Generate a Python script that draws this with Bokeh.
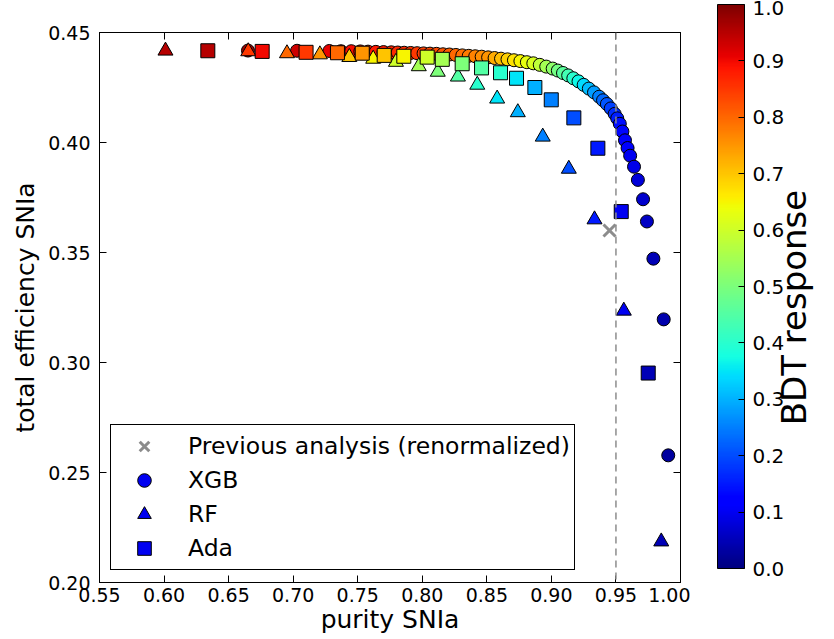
import numpy as np
from bokeh.plotting import figure
from bokeh.layouts import row
from bokeh.models import (LinearColorMapper, ColorBar, Span, Legend, LegendItem,
                          LinearAxis, FixedTicker, PrintfTickFormatter,
                          ColumnDataSource, Range1d)
from bokeh.embed import file_html
from bokeh.resources import INLINE

# ---------------- data ----------------
x_ticks = [0.55, 0.60, 0.65, 0.70, 0.75, 0.80, 0.85, 0.90, 0.95, 1.00]
y_ticks = [0.20, 0.25, 0.30, 0.35, 0.40, 0.45]
cbar_ticks = [0.0, 0.1, 0.2, 0.3, 0.4, 0.5, 0.6, 0.7, 0.8, 0.9, 1.0]

prev_purity = [0.945]
prev_eff = [0.360]
purity_cut = 0.95

xgb_purity = [0.665, 0.703, 0.728, 0.737, 0.745, 0.752, 0.758, 0.764, 0.770, 0.776,
              0.781, 0.786, 0.791, 0.796, 0.801, 0.806, 0.811, 0.816, 0.821, 0.826,
              0.831, 0.836, 0.841, 0.846, 0.851, 0.856, 0.861, 0.866, 0.871, 0.876,
              0.881, 0.886, 0.891, 0.896, 0.901, 0.905, 0.909, 0.913, 0.917, 0.921,
              0.925, 0.929, 0.933, 0.937, 0.940, 0.943, 0.946, 0.949, 0.951, 0.953,
              0.955, 0.957, 0.959, 0.961, 0.964, 0.967, 0.971, 0.974, 0.979, 0.987,
              0.9905]
xgb_eff = [0.4418, 0.4417, 0.4416, 0.4415, 0.4415, 0.4414, 0.4413, 0.4412, 0.4411, 0.4410,
           0.4409, 0.4408, 0.4407, 0.4406, 0.4405, 0.4404, 0.4403, 0.4401, 0.4400, 0.4398,
           0.4396, 0.4394, 0.4392, 0.4390, 0.4387, 0.4384, 0.4381, 0.4378, 0.4374, 0.4370,
           0.4365, 0.4360, 0.4353, 0.4345, 0.4336, 0.4327, 0.4316, 0.4305, 0.4292, 0.4278,
           0.4262, 0.4245, 0.4228, 0.4208, 0.4192, 0.4175, 0.4155, 0.4130, 0.4110, 0.4085,
           0.4050, 0.4010, 0.3975, 0.3940, 0.3890, 0.3830, 0.3742, 0.3641, 0.3472, 0.3196,
           0.2578]
xgb_bdt = [0.97, 0.93, 0.91, 0.90, 0.895, 0.89, 0.885, 0.88, 0.875, 0.87,
           0.865, 0.86, 0.855, 0.85, 0.84, 0.835, 0.83, 0.82, 0.81, 0.80,
           0.79, 0.78, 0.77, 0.76, 0.75, 0.73, 0.71, 0.69, 0.67, 0.65,
           0.63, 0.61, 0.58, 0.55, 0.52, 0.49, 0.46, 0.43, 0.40, 0.37,
           0.34, 0.31, 0.28, 0.25, 0.23, 0.21, 0.19, 0.17, 0.155, 0.14,
           0.13, 0.12, 0.11, 0.10, 0.09, 0.08, 0.07, 0.06, 0.05, 0.04,
           0.03]

rf_purity = [0.6011, 0.6652, 0.6952, 0.7207, 0.7435, 0.7620, 0.7796, 0.7973, 0.8120,
             0.8276, 0.8426, 0.8580, 0.8740, 0.8933, 0.9135, 0.9334, 0.9561, 0.9851]
rf_eff = [0.4417, 0.4414, 0.4405, 0.4400, 0.4388, 0.4380, 0.4366, 0.4346, 0.4321,
          0.4299, 0.4262, 0.4199, 0.4137, 0.4026, 0.3880, 0.3650, 0.3235, 0.2186]
rf_bdt = [0.95, 0.85, 0.80, 0.75, 0.70, 0.65, 0.60, 0.55, 0.50,
          0.45, 0.40, 0.35, 0.30, 0.25, 0.20, 0.15, 0.10, 0.05]

ada_purity = [0.6339, 0.6760, 0.7100, 0.7343, 0.7535, 0.7705, 0.7857, 0.8038, 0.8155,
              0.8309, 0.8459, 0.8606, 0.8730, 0.8872, 0.8999, 0.9174, 0.9360, 0.9541,
              0.9750]
ada_eff = [0.4417, 0.4414, 0.4410, 0.4408, 0.4406, 0.4396, 0.4392, 0.4388, 0.4378,
           0.4358, 0.4339, 0.4317, 0.4292, 0.4250, 0.4194, 0.4112, 0.3974, 0.3686,
           0.2952]
ada_bdt = [0.95, 0.90, 0.85, 0.80, 0.75, 0.70, 0.65, 0.60, 0.55,
           0.50, 0.45, 0.40, 0.35, 0.30, 0.25, 0.20, 0.15, 0.10,
           0.05]

# ---------------- jet colour palette ----------------
def _jet(v):
    r = np.interp(v, [0, 0.35, 0.66, 0.89, 1], [0, 0, 1, 1, 0.5])
    g = np.interp(v, [0, 0.125, 0.375, 0.64, 0.91, 1], [0, 0, 1, 1, 0, 0])
    b = np.interp(v, [0, 0.11, 0.34, 0.65, 1], [0.5, 1, 1, 0, 0])
    return "#%02x%02x%02x" % (int(round(r * 255)), int(round(g * 255)), int(round(b * 255)))

jet_palette = [_jet(i / 255.0) for i in range(256)]
mapper = LinearColorMapper(palette=jet_palette, low=0.0, high=1.0)

FONT = "DejaVu Sans"

# ---------------- main scatter panel ----------------
p = figure(width=690, height=639, x_range=Range1d(0.55, 1.0), y_range=Range1d(0.20, 0.45),
           output_backend="svg", toolbar_location=None,
           min_border_left=99, min_border_right=10, min_border_top=18, min_border_bottom=57,
           x_axis_label="purity SNIa", y_axis_label="total efficiency SNIa")
p.grid.visible = False
p.outline_line_color = "black"
p.outline_line_width = 1
p.background_fill_color = "white"
p.border_fill_color = "white"

for ax, ticks in ((p.xaxis[0], x_ticks), (p.yaxis[0], y_ticks)):
    ax.ticker = FixedTicker(ticks=ticks)
    ax.formatter = PrintfTickFormatter(format="%.2f")
    ax.major_tick_in = 7
    ax.major_tick_out = 0
    ax.minor_tick_line_color = None
    ax.axis_line_color = "black"
    ax.major_tick_line_color = "black"
    ax.major_label_text_font = FONT
    ax.major_label_text_font_size = "19px"
    ax.major_label_text_color = "black"
    ax.axis_label_text_font = FONT
    ax.axis_label_text_font_style = "normal"
    ax.axis_label_text_color = "black"
p.xaxis[0].major_label_standoff = 5
p.xaxis[0].axis_label_standoff = 0
p.xaxis[0].axis_label_text_font_size = "25px"
p.yaxis[0].major_label_standoff = 9
p.yaxis[0].axis_label_standoff = 5
p.yaxis[0].axis_label_text_font_size = "25px"

# mirror ticks on top and right (no labels)
for side, ticks in (("above", x_ticks), ("right", y_ticks)):
    ax = LinearAxis(ticker=FixedTicker(ticks=ticks), major_tick_in=7, major_tick_out=0,
                    minor_tick_line_color=None, axis_line_color="black",
                    major_tick_line_color="black", major_label_text_color=None,
                    major_label_standoff=0)
    p.add_layout(ax, side)

# dashed purity line
p.add_layout(Span(location=purity_cut, dimension="height", line_color="#8c8c8c",
                  line_dash="7 5", line_width=1.5))

prev_r = p.scatter(prev_purity, prev_eff, marker="x", size=17, line_color="#8c8c8c",
                   line_width=3)

src_xgb = ColumnDataSource(dict(x=xgb_purity, y=xgb_eff, t=xgb_bdt))
src_rf = ColumnDataSource(dict(x=rf_purity, y=rf_eff, t=rf_bdt))
src_ada = ColumnDataSource(dict(x=ada_purity, y=ada_eff, t=ada_bdt))

xgb_r = p.scatter("x", "y", source=src_xgb, marker="circle", size=13,
                  fill_color={"field": "t", "transform": mapper}, line_color="black", line_width=1)
rf_r = p.scatter("x", "y", source=src_rf, marker="triangle", size=15,
                 fill_color={"field": "t", "transform": mapper}, line_color="black", line_width=1)
ada_r = p.scatter("x", "y", source=src_ada, marker="square", size=14,
                  fill_color={"field": "t", "transform": mapper}, line_color="black", line_width=1)

legend = Legend(items=[
    LegendItem(label="Previous analysis (renormalized)", renderers=[prev_r]),
    LegendItem(label="XGB", renderers=[xgb_r], index=xgb_bdt.index(0.10)),
    LegendItem(label="RF", renderers=[rf_r], index=rf_bdt.index(0.10)),
    LegendItem(label="Ada", renderers=[ada_r], index=ada_bdt.index(0.10)),
], location=(11, 12))
legend.border_line_color = "black"
legend.border_line_width = 1
legend.border_line_alpha = 1
legend.background_fill_color = "white"
legend.background_fill_alpha = 1
legend.label_text_font = FONT
legend.label_text_font_size = "23.5px"
legend.label_text_color = "black"
legend.glyph_width = 58
legend.glyph_height = 34
legend.label_height = 34
legend.spacing = 0
legend.padding = 4
legend.margin = 0
legend.label_standoff = 15
p.add_layout(legend)

# ---------------- colour-bar panel (bar + its title) ----------------
cb = figure(width=144, height=639, x_range=Range1d(0, 1), y_range=Range1d(0, 1),
            output_backend="svg", toolbar_location=None, x_axis_location=None,
            min_border_left=125, min_border_right=0, min_border_top=32, min_border_bottom=43,
            y_axis_label="BDT response")
cb.grid.visible = False
cb.outline_line_color = None
cb.background_fill_color = "white"
cb.border_fill_color = "white"
yax = cb.yaxis[0]
yax.ticker = FixedTicker(ticks=[])
yax.axis_line_color = None
yax.major_tick_line_color = None
yax.minor_tick_line_color = None
yax.major_label_text_color = None
yax.major_tick_in = 0
yax.major_tick_out = 0
yax.major_label_standoff = 0
yax.axis_label_standoff = 2
yax.axis_label_text_font = FONT
yax.axis_label_text_font_style = "normal"
yax.axis_label_text_font_size = "34px"
yax.axis_label_text_color = "black"

cbar = ColorBar(color_mapper=mapper, ticker=FixedTicker(ticks=cbar_ticks),
                formatter=PrintfTickFormatter(format="%.1f"), width=27, height=564,
                padding=0, margin=0, location=(-98, 14), major_tick_in=6, major_tick_out=0,
                major_tick_line_color="black", bar_line_color="black",
                major_label_text_font=FONT, major_label_text_font_size="20px",
                major_label_text_color="black", label_standoff=8,
                background_fill_alpha=0, border_line_color=None)
cb.add_layout(cbar)

layout = row(p, cb, spacing=0)
open("out.html", "w").write(file_html(layout, INLINE))
